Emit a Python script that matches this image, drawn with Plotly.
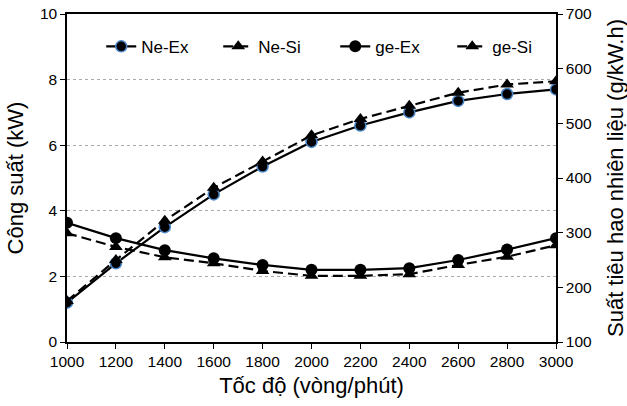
import plotly.graph_objects as go

speed = [1000, 1200, 1400, 1600, 1800, 2000, 2200, 2400, 2600, 2800, 3000]
ne_ex = [1.2, 2.4, 3.5, 4.5, 5.35, 6.1, 6.6, 7.0, 7.35, 7.56, 7.7]
ne_si = [1.25, 2.5, 3.7, 4.7, 5.5, 6.3, 6.8, 7.2, 7.6, 7.85, 7.95]
ge_ex = [318, 290, 268, 253, 241, 232, 232, 235, 250, 269, 290]
ge_si = [299, 274, 255, 244, 230, 221, 221, 224, 241, 256, 277]
right_title = "Suất tiêu hao nhiên liệu (g/kW.h)"

DASH = "10px,5px"
fig = go.Figure()
fig.add_trace(go.Scatter(x=speed, y=ne_ex, name="Ne-Ex", mode="lines+markers",
                         line=dict(color="black", width=2.2),
                         marker=dict(symbol="circle", size=11, color="black",
                                     line=dict(color="#4a86c8", width=1.5))))
fig.add_trace(go.Scatter(x=speed, y=ne_si, name="Ne-Si", mode="lines+markers",
                         line=dict(color="black", width=2.2, dash=DASH),
                         marker=dict(symbol="triangle-up", size=12, color="black")))
fig.add_trace(go.Scatter(x=speed, y=ge_ex, name="ge-Ex", mode="lines+markers", yaxis="y2",
                         line=dict(color="black", width=2.2),
                         marker=dict(symbol="circle", size=12, color="black")))
fig.add_trace(go.Scatter(x=speed, y=ge_si, name="ge-Si", mode="lines+markers", yaxis="y2",
                         line=dict(color="black", width=2.2, dash=DASH),
                         marker=dict(symbol="triangle-up", size=12, color="black")))

fig.update_layout(
    width=627, height=406,
    margin=dict(l=67, r=71, t=14, b=64),
    paper_bgcolor="white", plot_bgcolor="white",
    font=dict(family="Liberation Sans, Arial", color="black", size=15),
    showlegend=True,
    legend=dict(orientation="h", x=0.07, xanchor="left", y=0.9, yanchor="middle",
                font=dict(size=17), bgcolor="rgba(0,0,0,0)", itemwidth=30,
                entrywidth=72),
    xaxis=dict(range=[1000, 3000], dtick=200, tick0=1000, showgrid=False, automargin=False,
               showline=True, linecolor="black", linewidth=1.5, mirror=True,
               ticks="outside", ticklen=5, tickcolor="black",
               title=dict(text="Tốc độ (vòng/phút)", font=dict(size=22), standoff=8),
               tickfont=dict(size=15.5), zeroline=False),
    yaxis=dict(range=[0, 10], dtick=2, showgrid=True, gridcolor="#aaaaaa", griddash="dot",
               gridwidth=1, showline=True, linecolor="black", linewidth=1.5, automargin=False,
               ticks="outside", ticklen=5, tickcolor="black",
               title=dict(text="Công suất (kW)", font=dict(size=22), standoff=10),
               tickfont=dict(size=15.5), zeroline=False),
    yaxis2=dict(range=[100, 700], dtick=100, overlaying="y", side="right", showgrid=False,
                showline=True, linecolor="black", linewidth=1.5, automargin=False,
                ticks="outside", ticklen=5, tickcolor="black",
                tickfont=dict(size=15.5), zeroline=False),
    annotations=[dict(text=right_title, xref="paper", yref="paper", x=1, y=0.5,
                      xanchor="center", yanchor="middle", xshift=59, textangle=-90,
                      showarrow=False, font=dict(size=22, color="black"))],
)

fig.write_html("out.html", config={"displayModeBar": False},
               post_script="document.body.style.margin='0';")
